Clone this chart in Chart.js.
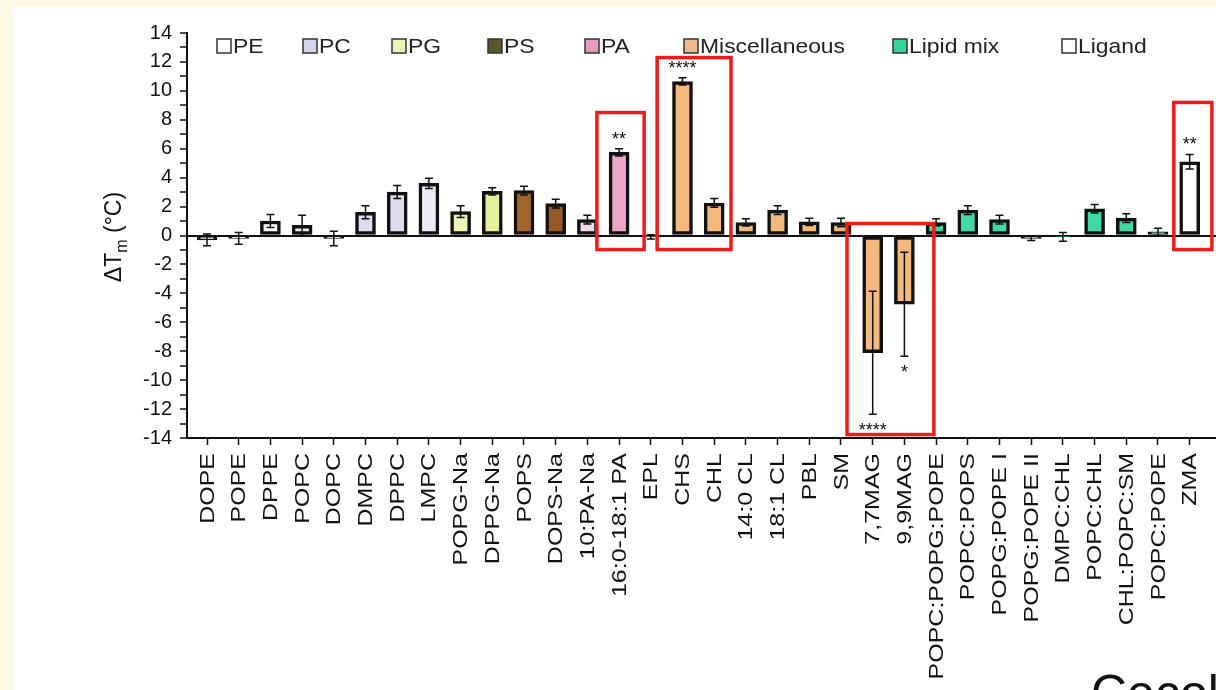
<!DOCTYPE html>
<html>
<head>
<meta charset="utf-8">
<script src="https://cdn.jsdelivr.net/npm/chart.js@4.4.1/dist/chart.umd.min.js"></script>
<style>
    html, body { margin: 0; padding: 0; }
    body {
        width: 1216px; height: 690px; overflow: hidden; position: relative;
        background: #fdf8e3; font-family: "Liberation Sans", Arial, sans-serif;
    }
    #panel { position: absolute; left: 13px; top: 7px; width: 1203px; height: 683px; background: #fff; }
    #caption {
        position: absolute; left: 1091px; top: 668px; font-size: 50px; line-height: 1;
        color: #111; white-space: nowrap;
    }
</style>
</head>
<body>
<div id="panel"><canvas id="barChart"></canvas></div>
<div id="caption">Cecol</div>
<script>
const categories = [
    "DOPE", "POPE", "DPPE", "POPC", "DOPC", "DMPC", "DPPC", "LMPC",
    "POPG-Na", "DPPG-Na", "POPS", "DOPS-Na", "10:PA-Na", "16:0-18:1 PA", "EPL", "CHS",
    "CHL", "14:0 CL", "18:1 CL", "PBL", "SM", "7,7MAG", "9,9MAG", "POPC:POPG:POPE",
    "POPC:POPS", "POPG:POPE I", "POPG:POPE II", "DMPC:CHL", "POPC:CHL", "CHL:POPC:SM", "POPC:POPE", "ZMA"
];
const deltaTm = [
    -0.3, -0.2, 1.0, 0.7, -0.2, 1.6, 3.0, 3.6,
    1.65, 3.05, 3.1, 2.2, 1.1, 5.75, -0.1, 10.65,
    2.25, 0.9, 1.75, 0.95, 0.9, -8.1, -4.75, 0.9,
    1.75, 1.1, -0.2, -0.1, 1.85, 1.2, 0.25, 5.1
];
const errors = [
    0.4, 0.4, 0.45, 0.7, 0.5, 0.45, 0.45, 0.35,
    0.4, 0.25, 0.3, 0.3, 0.3, 0.25, 0.15, 0.25,
    0.3, 0.25, 0.3, 0.25, 0.3, 4.25, 3.6, 0.25,
    0.3, 0.3, 0.15, 0.3, 0.3, 0.3, 0.25, 0.5
];
const stars = [
    "", "", "", "", "", "", "", "",
    "", "", "", "", "", "**", "", "****",
    "", "", "", "", "", "****", "*", "",
    "", "", "", "", "", "", "", "**"
];
// lipid class of every bar, index into groupNames
const barGroup = [
    0, 0, 0, 1, 1, 1, 1, 1,
    2, 2, 3, 3, 4, 4, 5, 5,
    5, 5, 5, 5, 5, 5, 5, 6,
    6, 6, 6, 6, 6, 6, 6, 7
];
const groupNames = ["PE", "PC", "PG", "PS", "PA", "Miscellaneous", "Lipid mix", "Ligand"];
const yTicks = [-14, -12, -10, -8, -6, -4, -2, 0, 2, 4, 6, 8, 10, 12, 14];

// the red boxes that mark the significant bars (index range, value range)
const highlights = [
    { x0: 12.3, x1: 13.79, top: 8.5, bottom: -0.97 },
    { x0: 14.2, x1: 16.53, top: 12.3, bottom: -0.97 },
    { x0: 20.19, x1: 22.93, top: 0.83, bottom: -13.76 },
    { x0: 30.5, x1: 31.7, top: 9.2, bottom: -0.97 }
];

const barColors = ["#ffffff", "#dcdcee", "#eef4b4", "#a2642c", "#eaa6c6", "#f4b97f", "#40d9a3", "#ffffff"];
const legendColors = ["#ffffff", "#d4d4ea", "#eef4b4", "#57562c", "#e59cbd", "#edb88a", "#34d69b", "#ffffff"];
const legendX = [204, 290, 379, 475, 572, 671, 880, 1049];

// a few bars are lighter than their group colour
const barFill = barGroup.map((g, i) => {
    if (categories[i] === "DPPG-Na") return "#e6ef9a";
    if (categories[i] === "DOPS-Na") return "#98592a";
    if (categories[i] === "10:PA-Na") return "#f2d9e8";
    if (categories[i] === "POPC" || categories[i] === "LMPC") return "#ebebf5";
    return barColors[g];
});

Chart.defaults.font.family = "'Liberation Sans', Arial, sans-serif";
Chart.defaults.color = "#111";

const extrasPlugin = {
    id: "extras",
    afterDatasetsDraw(chart) {
        const ctx = chart.ctx;
        const xs = chart.scales.x;
        const ys = chart.scales.y;

        // error bars and significance stars
        ctx.save();
        ctx.strokeStyle = "#111";
        ctx.fillStyle = "#111";
        ctx.lineWidth = 1.5;
        ctx.font = "18px 'Liberation Sans', Arial, sans-serif";
        ctx.textAlign = "center";
        ctx.textBaseline = "middle";
        deltaTm.forEach((v, i) => {
            const x = xs.getPixelForValue(i);
            const yHi = ys.getPixelForValue(v + errors[i]);
            const yLo = ys.getPixelForValue(v - errors[i]);
            ctx.beginPath();
            ctx.moveTo(x, yHi); ctx.lineTo(x, yLo);
            ctx.moveTo(x - 4, yHi); ctx.lineTo(x + 4, yHi);
            ctx.moveTo(x - 4, yLo); ctx.lineTo(x + 4, yLo);
            ctx.stroke();
            if (stars[i]) {
                const y = v >= 0 ? yHi - 9 : yLo + 17;
                ctx.fillText(stars[i], x, y);
            }
        });
        ctx.restore();

        // red highlight boxes
        ctx.save();
        ctx.strokeStyle = "#ee1b1b";
        ctx.lineWidth = 3.5;
        highlights.forEach((h) => {
            const l = xs.getPixelForValue(h.x0);
            const r = xs.getPixelForValue(h.x1);
            const t = ys.getPixelForValue(h.top);
            const b = ys.getPixelForValue(h.bottom);
            ctx.strokeRect(l, t, r - l, b - t);
        });
        ctx.restore();
    },
    afterDraw(chart) {
        const ctx = chart.ctx;
        const xs = chart.scales.x;

        // rotated category labels (stretched along the text like the original)
        ctx.save();
        ctx.fillStyle = "#111";
        ctx.font = "20px 'Liberation Sans', Arial, sans-serif";
        ctx.textAlign = "right";
        ctx.textBaseline = "middle";
        categories.forEach((c, i) => {
            ctx.save();
            ctx.translate(xs.getPixelForValue(i) + 1, xs.top + 15);
            ctx.rotate(-Math.PI / 2);
            ctx.scale(1.25, 1);
            ctx.fillText(c, 0, 0);
            ctx.restore();
        });
        ctx.restore();

        // legend row inside the plot
        ctx.save();
        ctx.font = "21px 'Liberation Sans', Arial, sans-serif";
        ctx.textBaseline = "middle";
        ctx.textAlign = "left";
        groupNames.forEach((name, g) => {
            const x = legendX[g];
            const y = 39;
            ctx.fillStyle = legendColors[g];
            ctx.fillRect(x, y - 7, 14, 14);
            ctx.strokeStyle = "#333";
            ctx.lineWidth = 1.5;
            ctx.strokeRect(x, y - 7, 14, 14);
            ctx.fillStyle = "#222";
            ctx.save();
            ctx.translate(x + 16, y + 1);
            ctx.scale(1.09, 1);
            ctx.fillText(name, 0, 0);
            ctx.restore();
        });
        ctx.restore();

        // y axis title: ΔTm (°C) with subscript m
        ctx.save();
        ctx.translate(100, 230);
        ctx.rotate(-Math.PI / 2);
        ctx.fillStyle = "#111";
        ctx.textBaseline = "alphabetic";
        const big = "23px 'Liberation Sans', Arial, sans-serif";
        const small = "16px 'Liberation Sans', Arial, sans-serif";
        ctx.font = big;
        const w1 = ctx.measureText("\u0394T").width;
        const w3 = ctx.measureText(" (\u00b0C)").width;
        ctx.font = small;
        const w2 = ctx.measureText("m").width;
        let x = -(w1 + w2 + w3) / 2;
        ctx.font = big;
        ctx.fillText("\u0394T", x, 8);
        x += w1;
        ctx.font = small;
        ctx.fillText("m", x, 14);
        x += w2;
        ctx.font = big;
        ctx.fillText(" (\u00b0C)", x, 8);
        ctx.restore();
    }
};

const barChart = new Chart(document.getElementById("barChart").getContext("2d"), {
    type: "bar",
    data: {
        datasets: [{
            label: "\u0394Tm",
            data: deltaTm.map((v, i) => ({ x: i, y: v })),
            backgroundColor: barFill,
            borderColor: "#111",
            borderWidth: 3.5,
            borderSkipped: false,
            barThickness: 20
        }]
    },
    options: {
        responsive: true,
        maintainAspectRatio: false,
        animation: false,
        layout: { padding: { top: 26, left: 0, right: 0, bottom: 0 } },
        plugins: {
            legend: { display: false },
            tooltip: { enabled: false }
        },
        scales: {
            x: {
                type: "linear",
                min: -0.631,
                max: 31.83,
                offset: false,
                grid: {
                    offset: false,
                    drawOnChartArea: false,
                    drawTicks: true,
                    tickLength: 7,
                    tickColor: "#111",
                    tickWidth: 1.5
                },
                border: { display: true, color: "#111", width: 2 },
                ticks: { display: false },
                afterBuildTicks: (scale) => {
                    scale.ticks = categories.map((c, i) => ({ value: i }));
                },
                afterFit: (scale) => {
                    scale.height = 252;
                    scale.paddingLeft = 0;
                    scale.paddingRight = 0;
                }
            },
            y: {
                min: -14,
                max: 14,
                grid: {
                    color: (ctx) => (ctx.tick && ctx.tick.value === 0 ? "#111" : "rgba(0,0,0,0)"),
                    lineWidth: 2,
                    tickColor: "#111",
                    tickWidth: 1.5,
                    tickLength: 7
                },
                border: { display: true, color: "#111", width: 2 },
                ticks: {
                    stepSize: 1,
                    autoSkip: false,
                    padding: 8,
                    font: { size: 20 },
                    color: "#111",
                    callback: (v) => (yTicks.includes(v) ? v : "")
                },
                afterFit: (scale) => {
                    scale.width = 174;
                    scale.paddingTop = 0;
                    scale.paddingBottom = 0;
                }
            }
        }
    },
    plugins: [extrasPlugin]
});
</script>
</body>
</html>
